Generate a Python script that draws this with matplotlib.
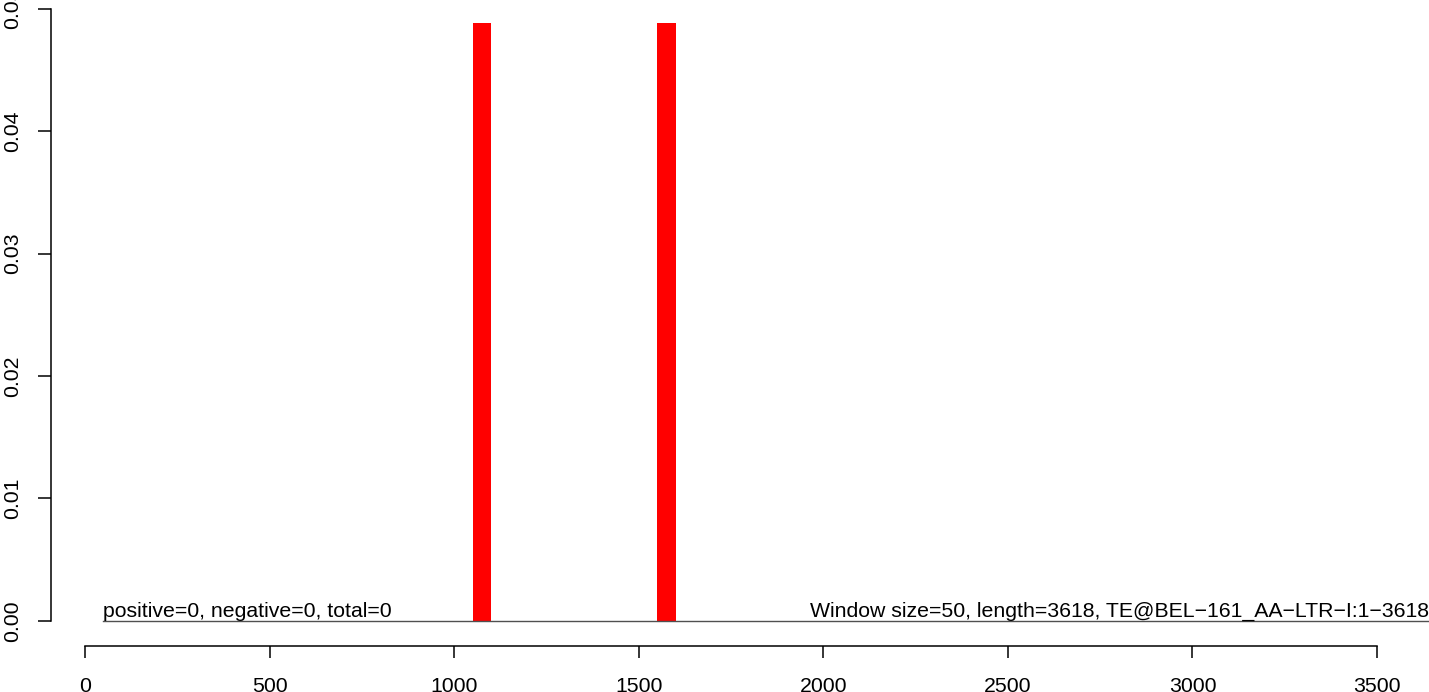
import matplotlib
matplotlib.use("Agg")
import matplotlib.pyplot as plt

plt.rcParams['font.family'] = ['Liberation Sans', 'DejaVu Sans']

# 数据
bar_starts = [1050, 1550]
bar_values = [0.0488, 0.0488]
window = 50
base_x = [50, 3650]
base_y = [0, 0]
x_ticks = [0, 500, 1000, 1500, 2000, 2500, 3000, 3500]
y_ticks = [0.00, 0.01, 0.02, 0.03, 0.04, 0.05]
left_note = "positive=0, negative=0, total=0"
right_note = "Window size=50, length=3618, TE@BEL\u2212161_AA\u2212LTR\u2212I:1\u22123618"

W, H = 1429, 692
fs = 15.3
fig = plt.figure(figsize=(W / 100, H / 100), dpi=100)
ax = fig.add_axes([51 / W, (H - 646) / H, 1 - 51 / W, 646 / H])

# 坐标范围（像素换算）
ax.set_xlim(-92.1, 3640.9)
ax.set_ylim(-0.002041, 0.050694)

ax.bar(bar_starts, bar_values, width=window, align='edge', color='#ff0000', linewidth=0)
ax.plot(base_x, base_y, color='#505050', linewidth=1.0)

ax.text(base_x[0], 0, left_note, ha='left', va='bottom', fontsize=fs)
ax.text(1964, 0, right_note, ha='left', va='bottom', fontsize=fs, clip_on=False)

for s in ['top', 'right']:
    ax.spines[s].set_visible(False)
ax.spines['left'].set_bounds(0, 0.05)
ax.spines['bottom'].set_bounds(0, 3500)
for s in ['left', 'bottom']:
    ax.spines[s].set_linewidth(1.1)

ax.set_xticks(x_ticks)
ax.set_xticklabels([str(t) for t in x_ticks])
ax.set_yticks(y_ticks)
ax.set_yticklabels(['%.2f' % t for t in y_ticks], rotation=90, va='center')
ax.tick_params(axis='x', length=8.6, width=1.1, pad=13.5, labelsize=fs)
ax.tick_params(axis='y', length=9.4, width=1.1, pad=11.5, labelsize=fs)

fig.savefig('out.png', dpi=100)
